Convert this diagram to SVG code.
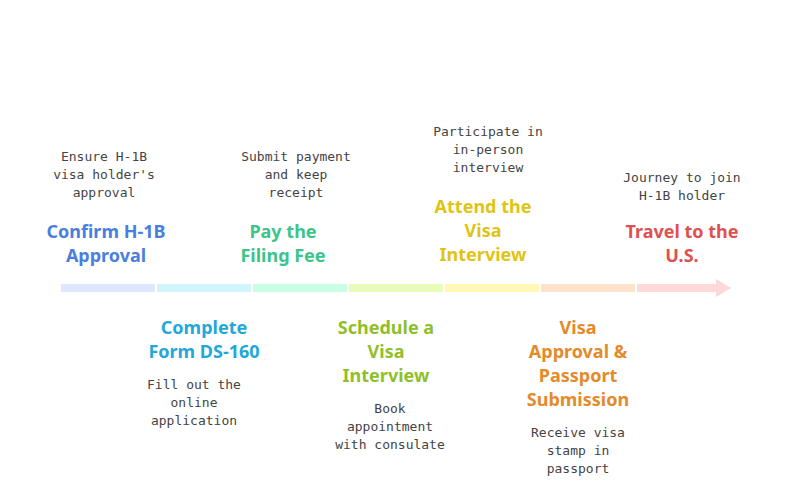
<svg xmlns="http://www.w3.org/2000/svg" width="792" height="504" viewBox="0 0 792 504">
<style>
.t{font-family:"Noto Sans","DejaVu Sans",sans-serif;font-weight:bold;font-size:18px;text-anchor:middle}
.d{font-family:"DejaVu Sans Mono","Liberation Mono",monospace;font-size:13px;fill:#444;text-anchor:middle}
</style>
<rect width="792" height="504" fill="#fff"/>
<g id="connectors">
<rect x="61" y="284" width="94" height="8" fill="#dde7fd"/>
<rect x="157" y="284" width="94" height="8" fill="#d2f4fd"/>
<rect x="253" y="284" width="94" height="8" fill="#c9fde4"/>
<rect x="349" y="284" width="94" height="8" fill="#e9fdbb"/>
<rect x="445" y="284" width="94" height="8" fill="#fff8b8"/>
<rect x="541" y="284" width="94" height="8" fill="#fee2cb"/>
<path d="M637 284H716V279L731 288L716 297V292H637Z" fill="#ffd8d8"/>
</g>
<g id="n1"><text class="d" x="104" y="161">Ensure H-1B</text><text class="d" x="104" y="179">visa holder's</text><text class="d" x="104" y="197">approval</text>
<text class="t" fill="#4a7fe0" x="106" y="238">Confirm H-1B</text><text class="t" fill="#4a7fe0" x="106" y="262">Approval</text></g>
<g id="n2"><text class="t" fill="#1fa8d8" x="204" y="334">Complete</text><text class="t" fill="#1fa8d8" x="204" y="358">Form DS-160</text>
<text class="d" x="194" y="389">Fill out the</text><text class="d" x="194" y="407">online</text><text class="d" x="194" y="425">application</text></g>
<g id="n3"><text class="d" x="296" y="161">Submit payment</text><text class="d" x="296" y="179">and keep</text><text class="d" x="296" y="197">receipt</text>
<text class="t" fill="#3cc48a" x="283" y="238">Pay the</text><text class="t" fill="#3cc48a" x="283" y="262">Filing Fee</text></g>
<g id="n4"><text class="t" fill="#8fbf2a" x="386" y="334">Schedule a</text><text class="t" fill="#8fbf2a" x="386" y="358">Visa</text><text class="t" fill="#8fbf2a" x="386" y="382">Interview</text>
<text class="d" x="390" y="413">Book</text><text class="d" x="390" y="431">appointment</text><text class="d" x="390" y="449">with consulate</text></g>
<g id="n5"><text class="d" x="488" y="136">Participate in</text><text class="d" x="488" y="154">in-person</text><text class="d" x="488" y="172">interview</text>
<text class="t" fill="#e0c414" x="483" y="213">Attend the</text><text class="t" fill="#e0c414" x="483" y="237">Visa</text><text class="t" fill="#e0c414" x="483" y="261">Interview</text></g>
<g id="n6"><text class="t" fill="#e58a2a" x="578" y="334">Visa</text><text class="t" fill="#e58a2a" x="578" y="358">Approval &amp;</text><text class="t" fill="#e58a2a" x="578" y="382">Passport</text><text class="t" fill="#e58a2a" x="578" y="406">Submission</text>
<text class="d" x="578" y="437">Receive visa</text><text class="d" x="578" y="455">stamp in</text><text class="d" x="578" y="473">passport</text></g>
<g id="n7"><text class="d" x="682" y="182">Journey to join</text><text class="d" x="682" y="200">H-1B holder</text>
<text class="t" fill="#e05050" x="682" y="238">Travel to the</text><text class="t" fill="#e05050" x="682" y="262">U.S.</text></g>
</svg>
